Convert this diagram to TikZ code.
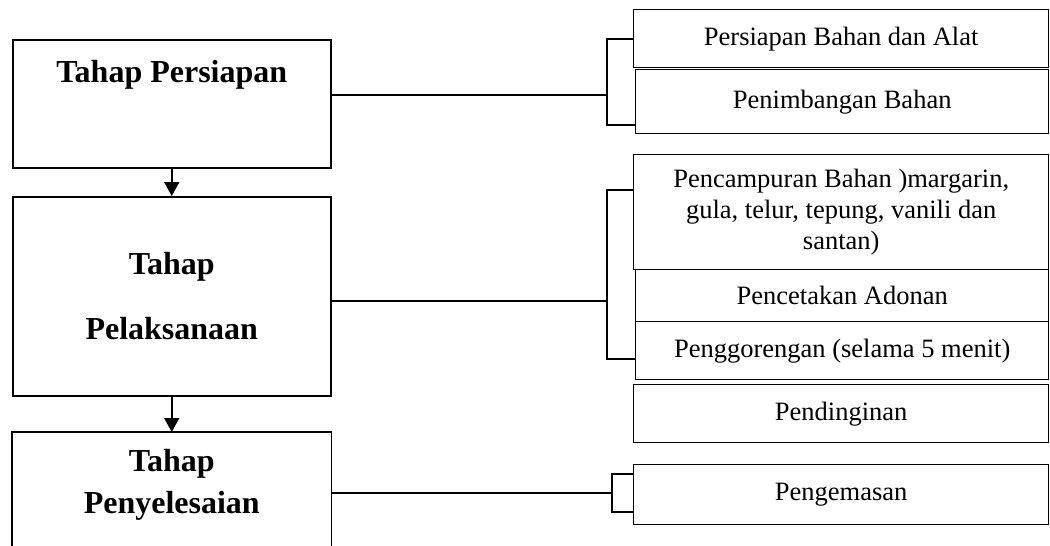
\documentclass[tikz,border=0pt]{standalone}
\usepackage{fontspec}
\setmainfont{Liberation Serif}
\usetikzlibrary{arrows.meta,calc}
\begin{document}
\begin{tikzpicture}[x=1pt,y=-1pt,
  stage/.style={draw, line width=1.5pt, inner sep=0pt, anchor=north west,
    font=\bfseries\fontsize{32}{42}\selectfont, minimum width=318pt},
  task/.style={draw, line width=1.4pt, inner sep=0pt, anchor=north west,
    font=\fontsize{26.5}{31}\selectfont, align=center},
  link/.style={line width=1.4pt},
  flow/.style={line width=1.5pt, -{Triangle[length=14pt,width=15pt]}}]
\useasboundingbox (0,0) rectangle (1050,546);

% stages on the left
\node[stage, text height=43pt, text depth=85pt] (s1) at (12,39) {Tahap Persiapan};
\node[stage, align=center, minimum height=199pt,
      font=\bfseries\fontsize{32}{65}\selectfont] (s2) at (12,196) {Tahap\\Pelaksanaan};
\node[stage, draw=none, align=center, minimum height=104pt] (s3) at (12,432) {Tahap\\Penyelesaian};
\draw[line width=1.5pt] ([yshift=-30pt]s3.south west) -- (s3.north west)
  -- (s3.north east) -- ([yshift=-30pt]s3.south east);

\draw[flow] (s1) -- (s2);
\draw[flow] (s2) -- (s3);

% activities on the right
\node[task, minimum width=415pt, minimum height=58pt] (t1) at (633,9) {Persiapan Bahan dan Alat};
\node[task, minimum width=413pt, minimum height=64pt] (t2) at (635,69) {Penimbangan Bahan};
\node[task, minimum width=415pt, minimum height=115pt] (t3) at (633,154)
  {Pencampuran Bahan )margarin,\\gula, telur, tepung, vanili dan\\santan)};
\node[task, minimum width=413pt, minimum height=52pt] (t4) at (635,269) {Pencetakan Adonan};
\node[task, minimum width=413pt, minimum height=58pt] (t5) at (635,321) {Penggorengan (selama 5 menit)};
\node[task, minimum width=415pt, minimum height=58pt] (t6) at (633,384) {Pendinginan};
\node[task, minimum width=415pt, minimum height=60pt] (t7) at (633,464) {Pengemasan};

% brackets joining each stage to its activities
\coordinate (j1) at (607,95);  \coordinate (j1t) at (607,39);  \coordinate (j1b) at (607,125);
\coordinate (j2) at (607,301); \coordinate (j2t) at (607,190); \coordinate (j2b) at (607,359);
\coordinate (j3) at (612,493); \coordinate (j3t) at (612,474); \coordinate (j3b) at (612,512);

\draw[link] (s1.east |- j1) -- (j1);
\draw[link] (t1.west |- j1t) -- (j1t) -- (j1b) -- (t2.west |- j1b);
\draw[link] (s2.east |- j2) -- (j2);
\draw[link] (t3.west |- j2t) -- (j2t) -- (j2b) -- (t5.west |- j2b);
\draw[link] (s3.east |- j3) -- (j3);
\draw[link] (t7.west |- j3t) -- (j3t) -- (j3b) -- (t7.west |- j3b);
\end{tikzpicture}
\end{document}
